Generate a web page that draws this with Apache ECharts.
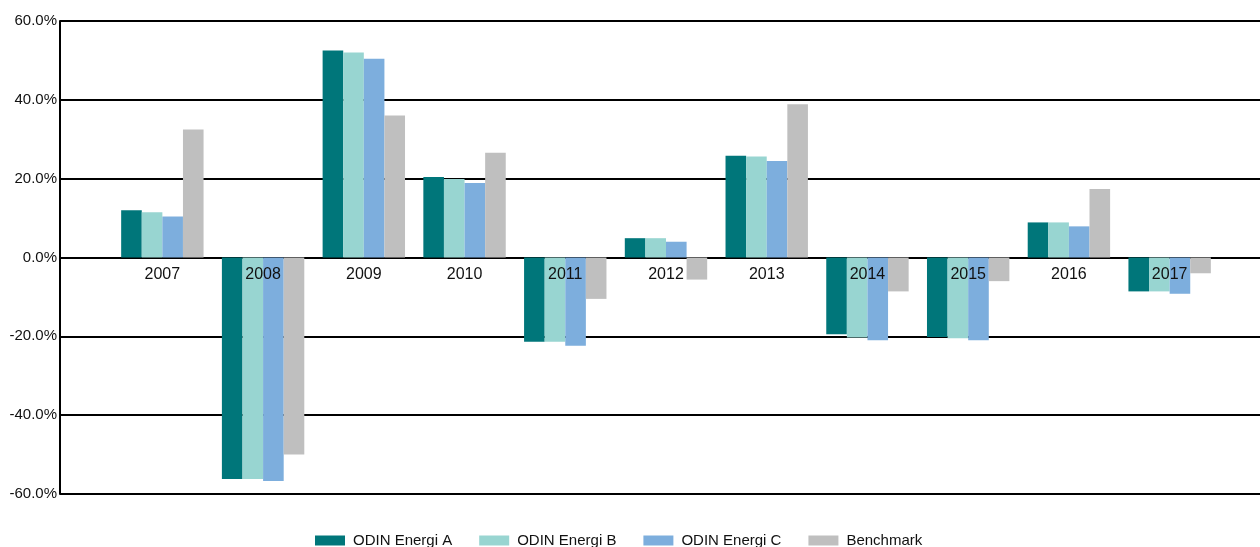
<!DOCTYPE html>
<html>
<head>
<meta charset="utf-8">
<script src="https://cdn.jsdelivr.net/npm/echarts@6/dist/echarts.min.js"></script>
<style>
  html, body { margin: 0; padding: 0; background: #fff; }
  #main { width: 1260px; height: 547px; }
</style>
</head>
<body>
<div id="main"></div>
<script>
// data (percent)
var years = ['2007', '2008', '2009', '2010', '2011', '2012', '2013', '2014', '2015', '2016', '2017'];
var energiA = [12.0, -56.2, 52.5, 20.4, -21.4, 4.9, 25.8, -19.5, -20.2, 8.9, -8.6];
var energiB = [11.5, -56.2, 52.0, 19.9, -21.4, 4.9, 25.6, -20.3, -20.5, 8.9, -8.6];
var energiC = [10.4, -56.7, 50.4, 18.9, -22.4, 4.0, 24.5, -21.0, -21.0, 7.9, -9.2];
var benchmark = [32.5, -50.0, 36.0, 26.6, -10.5, -5.6, 38.9, -8.6, -6.0, 17.4, -4.0];
var yTicks = [-60, -40, -20, 0, 20, 40, 60];

var myChart = echarts.init(document.getElementById('main'));

var font = 'Liberation Sans, Arial, sans-serif';

function bar(name, data, color) {
    return {
        name: name,
        type: 'bar',
        xAxisIndex: 1,
        yAxisIndex: 1,
        data: data,
        barWidth: 20.6,
        barGap: '0%',
        itemStyle: { color: color },
        emphasis: { disabled: true }
    };
}

var option = {
    animation: false,
    textStyle: { fontFamily: font },
    grid: [
        { left: 60, right: 0, top: 21, bottom: 53 },
        { left: 112, right: 40, top: 21, bottom: 53 }
    ],
    legend: {
        left: 315,
        top: 533,
        padding: 0,
        icon: 'rect',
        itemWidth: 30,
        itemHeight: 10,
        itemGap: 27,
        textStyle: { fontSize: 15, color: '#111', fontFamily: font, padding: [0, 0, 0, 3] },
        data: ['ODIN Energi A', 'ODIN Energi B', 'ODIN Energi C', 'Benchmark']
    },
    xAxis: [
        { type: 'value', gridIndex: 0, min: 0, max: 1, show: false },
        {
            type: 'category',
            gridIndex: 1,
            data: years,
            z: 10,
            position: 'bottom',
            // labels sit just under the zero line, not under the plot
            offset: -236.5,
            axisLine: { show: false, onZero: false },
            axisTick: { show: false },
            axisLabel: { fontSize: 16, color: '#111', margin: 9, fontFamily: font }
        }
    ],
    yAxis: [
        {
            type: 'value',
            gridIndex: 0,
            min: yTicks[0],
            max: yTicks[yTicks.length - 1],
            interval: 20,
            axisLine: { show: true, lineStyle: { color: '#000', width: 2 } },
            axisTick: { show: false },
            splitLine: { show: true, lineStyle: { color: '#000', width: 2 } },
            axisLabel: {
                fontSize: 15,
                color: '#111',
                margin: 3,
                fontFamily: font,
                formatter: function (v) { return v.toFixed(1) + '%'; }
            }
        },
        {
            type: 'value',
            gridIndex: 1,
            min: yTicks[0],
            max: yTicks[yTicks.length - 1],
            interval: 20,
            show: false
        }
    ],
    series: [
        bar('ODIN Energi A', energiA, '#00767a'),
        bar('ODIN Energi B', energiB, '#98d5d1'),
        bar('ODIN Energi C', energiC, '#7daedd'),
        bar('Benchmark', benchmark, '#bfbfbf')
    ]
};

myChart.setOption(option);
</script>
</body>
</html>
